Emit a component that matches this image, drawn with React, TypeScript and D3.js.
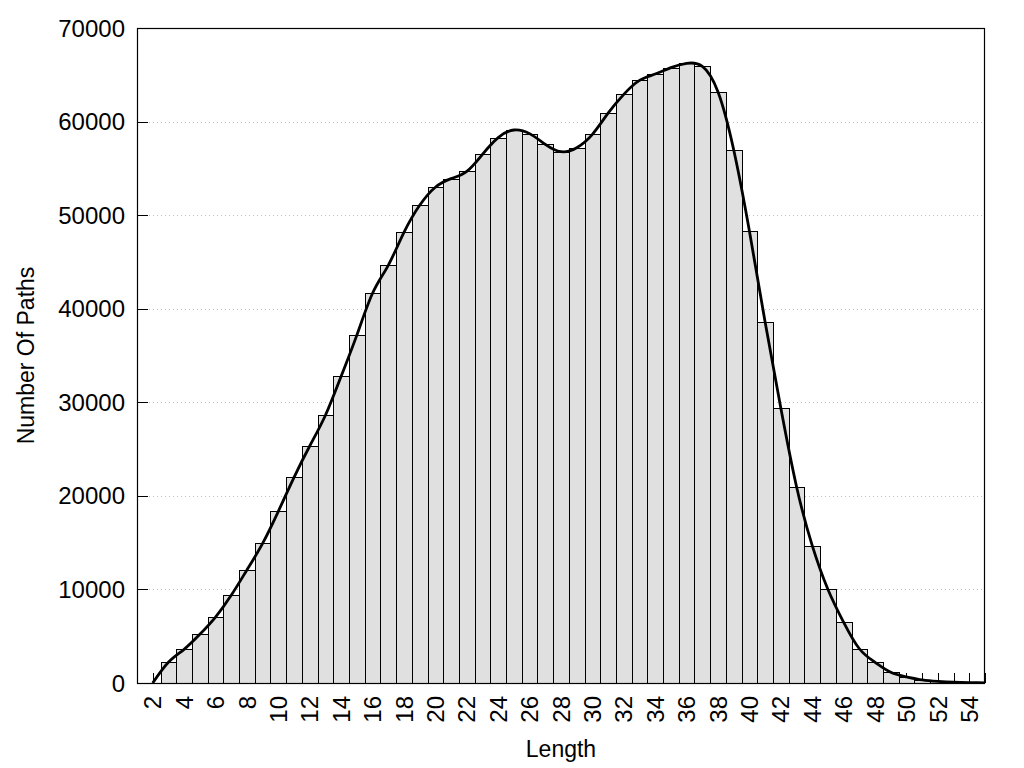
import React from "react";
import * as d3 from "d3";

const lengths = [2, 3, 4, 5, 6, 7, 8, 9, 10, 11, 12, 13, 14, 15, 16, 17, 18, 19, 20, 21, 22, 23, 24, 25, 26, 27, 28, 29, 30, 31, 32, 33, 34, 35, 36, 37, 38, 39, 40, 41, 42, 43, 44, 45, 46, 47, 48, 49, 50, 51, 52, 53, 54, 55];
const paths = [0, 2210, 3600, 5200, 7050, 9370, 12080, 14930, 18350, 21980, 25330, 28610, 32780, 37180, 41650, 44640, 48150, 51050, 52980, 53900, 54680, 56500, 58290, 59100, 58710, 57570, 56780, 57210, 58640, 60900, 62910, 64400, 65080, 65760, 66220, 65900, 63160, 56960, 48270, 38550, 29360, 20980, 14680, 10000, 6490, 3660, 2210, 1140, 650, 330, 170, 80, 40, 15];
const xTickLabels = [2, 4, 6, 8, 10, 12, 14, 16, 18, 20, 22, 24, 26, 28, 30, 32, 34, 36, 38, 40, 42, 44, 46, 48, 50, 52, 54];
const yTicks = [0, 10000, 20000, 30000, 40000, 50000, 60000, 70000];

const W = 1024, H = 768;
const L = 137, R = 985, T = 28, B = 683;
const FONT = "'Liberation Sans', Arial, sans-serif";

export default function App() {
  const x = d3.scaleLinear().domain([1, 55]).range([L, R]);
  const y = d3.scaleLinear().domain([0, 70000]).range([B, T]);
  const pts: [number, number][] = lengths.map((l, i) => [x(l), y(paths[i])]);
  const line = d3.line().curve(d3.curveNatural)(pts) || "";
  const minorTicks = d3.range(2, 56);

  return (
    <svg width={W} height={H} style={{ position: "absolute", left: 0, top: 0, background: "#fff" }} fontFamily={FONT}>
      <defs>
        <clipPath id="plot">
          <rect x={L} y={T} width={R - L} height={B - T} />
        </clipPath>
      </defs>
      <rect x={0} y={0} width={W} height={H} fill="#fff" />
      {/* grid */}
      {yTicks.filter(t => t > 0 && t < 70000).map(t => (
        <line key={"g" + t} x1={L} x2={R} y1={Math.round(y(t)) + 0.5} y2={Math.round(y(t)) + 0.5} stroke="#c0c0c0" strokeWidth={1} strokeDasharray="1,3" />
      ))}
      {/* x ticks */}
      {minorTicks.map(t => (
        <line key={"xt" + t} x1={Math.round(x(t)) + 0.5} x2={Math.round(x(t)) + 0.5} y1={B} y2={B - 10} stroke="#000" strokeWidth={1} />
      ))}
      {/* bars */}
      <g clipPath="url(#plot)">
        {lengths.map((l, i) => (
          <rect key={"b" + l} x={Math.round(x(l - 0.5)) + 0.5} y={Math.round(y(paths[i])) + 0.5}
            width={Math.round(x(l + 0.5)) - Math.round(x(l - 0.5))}
            height={Math.round(y(0)) - Math.round(y(paths[i]))}
            fill="#e0e0e0" stroke="#000" strokeWidth={1} shapeRendering="crispEdges" />
        ))}
      </g>
      {/* y ticks */}
      {yTicks.map(t => (
        <line key={"yt" + t} x1={L} x2={L + 11} y1={Math.round(y(t)) + 0.5} y2={Math.round(y(t)) + 0.5} stroke="#000" strokeWidth={1} />
      ))}
      {/* curve */}
      <path d={line} fill="none" stroke="#000" strokeWidth={2.8} clipPath="url(#plot)" strokeLinejoin="round" />
      {/* border */}
      <rect x={L + 0.5} y={T + 0.5} width={R - L - 1} height={B - T} fill="none" stroke="#000" strokeWidth={1.2} />
      {/* y labels */}
      {yTicks.map(t => (
        <text key={"yl" + t} x={125} y={y(t)} dy="0.36em" textAnchor="end" fontSize={24} fill="#000">{t}</text>
      ))}
      {/* x labels */}
      {xTickLabels.map(t => (
        <text key={"xl" + t} transform={`translate(${x(t)},696) rotate(-90)`} textAnchor="end" dy="0.36em" fontSize={24} fill="#000">{t}</text>
      ))}
      <text x={(L + R) / 2} y={757} textAnchor="middle" fontSize={23} fill="#000">Length</text>
      <text transform={`translate(34,${(T + B) / 2}) rotate(-90)`} textAnchor="middle" fontSize={23} fill="#000">Number Of Paths</text>
    </svg>
  );
}
